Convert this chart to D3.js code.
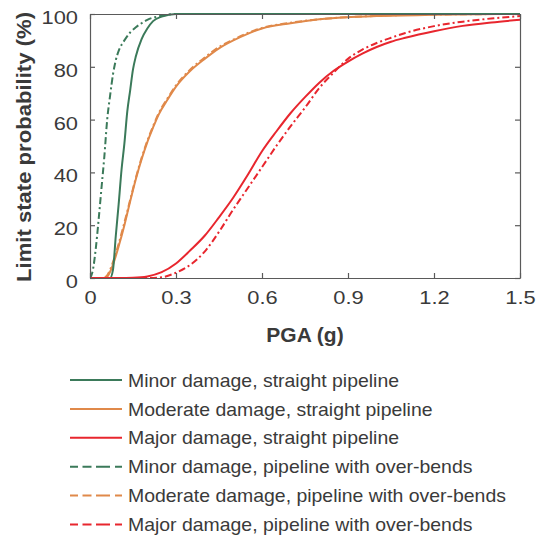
<!DOCTYPE html>
<html><head><meta charset="utf-8">
<script src="https://cdn.jsdelivr.net/npm/d3@7"></script>
<style>body{margin:0;background:#fff}svg{display:block;font-family:"Liberation Sans",Arial,sans-serif}</style>
</head><body><svg id="c" width="540" height="540"></svg>
<script>
const xTicks = [0, 0.3, 0.6, 0.9, 1.2, 1.5];
const xTickLabels = ["0", "0.3", "0.6", "0.9", "1.2", "1.5"];
const yTicks = [0, 20, 40, 60, 80, 100];

const minorStraight = [[0,0],[0.07,0],[0.08,3],[0.09,16],[0.1,28],[0.11,41],[0.12,51],[0.13,63],[0.14,71],[0.15,79],[0.16,84],[0.18,90.5],[0.2,94.5],[0.22,97.3],[0.25,99],[0.3,100],[0.6,100],[1.0,100],[1.5,100]];
const moderateStraight = [[0,0],[0.05,0],[0.06,0.5],[0.08,5],[0.1,12],[0.12,20],[0.14,29],[0.16,37.5],[0.18,45],[0.2,51.5],[0.22,57],[0.24,62],[0.27,67.5],[0.3,72.5],[0.35,78.5],[0.4,83],[0.45,87],[0.5,90],[0.55,92.5],[0.6,94.5],[0.7,96.5],[0.8,98],[1.0,99.2],[1.2,99.7],[1.5,100]];
const majorStraight = [[0,0],[0.1,0],[0.15,0.1],[0.2,0.6],[0.25,2.2],[0.3,5.5],[0.35,10.5],[0.4,16],[0.45,23],[0.5,30.5],[0.55,39],[0.6,48],[0.65,55.5],[0.7,62.5],[0.75,68.5],[0.8,74],[0.85,78.5],[0.9,82],[0.95,85],[1.0,87.5],[1.05,89.5],[1.1,91],[1.2,93.5],[1.3,95.5],[1.4,96.8],[1.5,97.8]];
const minorBends = [[0,0],[0.01,3],[0.02,11],[0.03,22],[0.04,34],[0.05,46],[0.06,60],[0.07,69],[0.08,77],[0.09,82.5],[0.1,86],[0.12,90],[0.14,93],[0.16,95],[0.18,96.5],[0.2,97.8],[0.25,99.3],[0.3,100],[0.6,100],[1.0,100],[1.5,100]];
const moderateBends = [[0,0],[0.045,0],[0.06,1],[0.08,6],[0.1,13],[0.12,21],[0.14,29.5],[0.16,38],[0.18,45.5],[0.2,52],[0.22,57.5],[0.24,62.5],[0.27,68],[0.3,73],[0.35,79],[0.4,83.5],[0.45,87.5],[0.5,90.3],[0.55,92.8],[0.6,94.7],[0.7,96.7],[0.8,98],[1.0,99.3],[1.2,99.8],[1.5,100]];
const majorBends = [[0,0],[0.2,0],[0.25,0.3],[0.3,2],[0.35,5],[0.4,10],[0.45,17.5],[0.5,26],[0.55,34],[0.6,42],[0.65,50],[0.7,57.5],[0.75,64.5],[0.8,72],[0.85,77.8],[0.9,83],[0.95,86.5],[1.0,89],[1.05,91],[1.1,92.8],[1.2,95.4],[1.3,97.1],[1.4,98.3],[1.5,99.2]];

const seriesNames = ["Minor damage, straight pipeline","Moderate damage, straight pipeline","Major damage, straight pipeline","Minor damage, pipeline with over-bends","Moderate damage, pipeline with over-bends","Major damage, pipeline with over-bends"];
const seriesData = [minorStraight, moderateStraight, majorStraight, minorBends, moderateBends, majorBends];
const seriesColors = ["#3b7a5a","#e0894a","#e8262e","#3b7a5a","#e0894a","#e8262e"];
const seriesDashed = [false,false,false,true,true,true];

const svg = d3.select("#c");
const L=90,R=520,T=14,B=278;
const x = d3.scaleLinear().domain([0,1.5]).range([L,R]);
const y = d3.scaleLinear().domain([0,100]).range([B,T]);
const axisColor="#5a5a5a", textColor="#3a3a3a";
const dash="7,3,2,3";

function stretch(sel, f){
  sel.each(function(){
    const w=this.getComputedTextLength();
    d3.select(this).attr("textLength",w*f).attr("lengthAdjust","spacingAndGlyphs");
  });
}

svg.append("clipPath").attr("id","clp").append("rect").attr("x",L).attr("y",T-2).attr("width",R-L+1).attr("height",B-T+3);

const line = d3.line().x(d=>x(d[0])).y(d=>y(d[1])).curve(d3.curveMonotoneX);
const g = svg.append("g").attr("clip-path","url(#clp)");
[1,4,0,3,2,5].forEach(i=>{
  g.append("path").attr("d",line(seriesData[i])).attr("fill","none")
   .attr("stroke",seriesColors[i]).attr("stroke-width",2)
   .attr("stroke-dasharray",seriesDashed[i]?dash:null);
});

function styleAxis(a){
  a.select(".domain").attr("stroke",axisColor).attr("stroke-width",1.2);
  a.selectAll(".tick line").attr("stroke",axisColor).attr("stroke-width",1.2);
  a.selectAll("text").attr("fill",textColor).style("font-size","19px");
}
const xa = svg.append("g").attr("transform",`translate(0,${B})`)
  .call(d3.axisBottom(x).tickValues(xTicks).tickFormat((d,i)=>xTickLabels[i]).tickSizeInner(-5).tickSizeOuter(0).tickPadding(13));
styleAxis(xa);
stretch(xa.selectAll("text"),1.15);
const xt = svg.append("g").attr("transform",`translate(0,${T})`)
  .call(d3.axisTop(x).tickValues(xTicks).tickFormat("").tickSizeInner(-5).tickSizeOuter(0));
styleAxis(xt);
const ya = svg.append("g").attr("transform",`translate(${L},0)`)
  .call(d3.axisLeft(y).tickValues(yTicks).tickSizeInner(-5).tickSizeOuter(0).tickPadding(12));
styleAxis(ya);
ya.selectAll("text").attr("dy","0.5em");
stretch(ya.selectAll("text"),1.15);
const yr = svg.append("g").attr("transform",`translate(${R},0)`)
  .call(d3.axisRight(y).tickValues(yTicks).tickFormat("").tickSizeInner(-5).tickSizeOuter(0));
styleAxis(yr);

svg.append("text").attr("x",(L+R)/2).attr("y",342).attr("text-anchor","middle")
  .attr("font-weight","bold").style("font-size","21px").attr("fill",textColor).text("PGA (g)");
const yt = svg.append("text").attr("transform",`translate(31,${(12+282)/2}) rotate(-90)`).attr("text-anchor","middle")
  .attr("font-weight","bold").style("font-size","20px").attr("fill",textColor).text("Limit state probability (%)");
yt.attr("textLength",270).attr("lengthAdjust","spacingAndGlyphs");

const leg = svg.append("g");
seriesNames.forEach((n,i)=>{
  const yy = 380 + i*28.9;
  leg.append("line").attr("x1",70).attr("x2",122).attr("y1",yy).attr("y2",yy)
    .attr("stroke",seriesColors[i]).attr("stroke-width",2)
    .attr("stroke-dasharray",seriesDashed[i]?"8,4.5,9,4.5,14,5,7":null);
  const t = leg.append("text").attr("x",128).attr("y",yy).attr("dy","0.36em")
    .style("font-size","18.5px").attr("fill",textColor).text(n);
  stretch(t,1.05);
});
</script></body></html>
